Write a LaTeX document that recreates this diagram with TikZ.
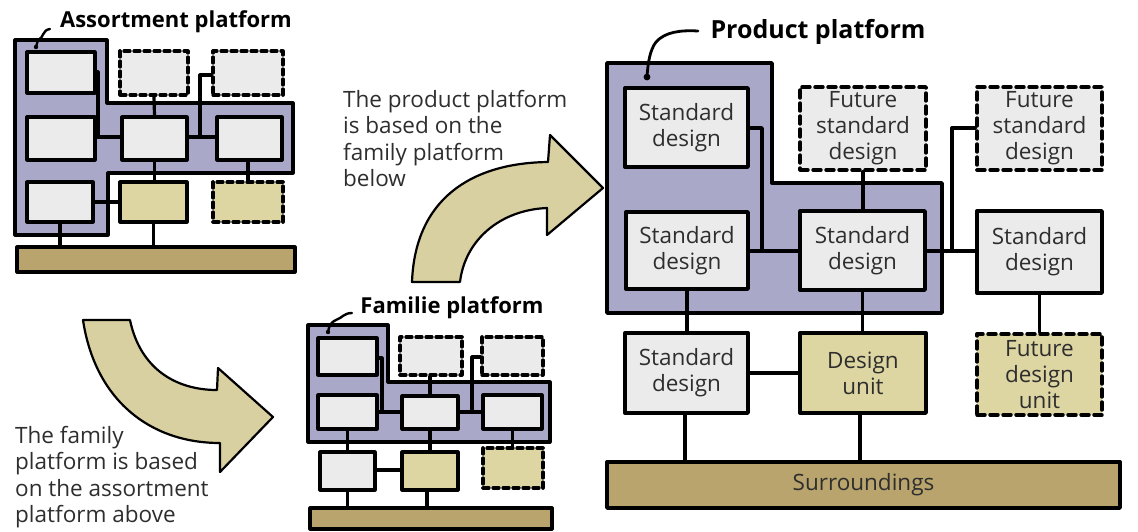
\documentclass[tikz,border=0pt]{standalone}
\usepackage{fontspec}
\setmainfont{Open Sans}
\usetikzlibrary{calc}
\definecolor{platblue}{HTML}{A9A8C9}
\definecolor{stdgray}{HTML}{EBEBEB}
\definecolor{unittan}{HTML}{DDD5A2}
\definecolor{envtan}{HTML}{B8A46C}
\definecolor{arrowtan}{HTML}{D9D0A1}
\definecolor{inkgray}{HTML}{2E2E2E}
\pgfdeclarelayer{platlayer}
\pgfdeclarelayer{wirelayer}
\pgfsetlayers{platlayer,wirelayer,main}
\tikzset{
  ink/.style={line width=#1, draw=black, line join=round, line cap=round},
  bigbox/.style={rectangle, ink=3.4, fill=stdgray, inner sep=0pt, align=center,
     text=inkgray, font=\fontsize{22.5}{26}\selectfont},
  smallbox/.style={rectangle, ink=3.2, fill=stdgray, inner sep=0pt},
  unitfill/.style={fill=unittan},
  envfill/.style={fill=envtan},
  futurebig/.style={dash pattern=on 8pt off 5pt},
  futuresmall/.style={dash pattern=on 6pt off 4pt},
  platbig/.style={ink=3.4, fill=platblue},
  platsmall/.style={ink=3.2, fill=platblue},
  wirebig/.style={ink=3.4},
  wiresmall/.style={ink=3.2},
  bigarrow/.style={ink=2.2, fill=arrowtan},
  leader/.style={ink=2.4},
  title/.style={font=\fontsize{22}{26}\selectfont\bfseries, text=black, inner sep=0pt},
  note/.style={font=\fontsize{22.5}{26.5}\selectfont, text=inkgray, align=left, inner sep=0pt, anchor=north west},
}
\begin{document}
\begin{tikzpicture}[x=1pt,y=-1pt]
\useasboundingbox (0,0) rectangle (1138,531);

% ---------------- Assortment platform (top left) ----------------
\node[title] (t1) at (176,22) {Assortment platform};
\begin{pgfonlayer}{platlayer}
\draw[platsmall] (15,40) -- (107,40) -- (107,103) -- (293,103) -- (293,173)
   -- (108,173) -- (108,235) -- (15,235) -- cycle;
\end{pgfonlayer}
\coordinate (t1dot) at (36,47);
\draw[leader] (50,29) .. controls (42,30) and (44,38) .. (38,40) -- (t1dot);
\fill (t1dot) circle (2.2);

\node[smallbox, minimum width=68, minimum height=41] (aA1) at (61,72.5) {};
\node[smallbox, futuresmall, minimum width=68, minimum height=44] (aA2) at (154,73) {};
\node[smallbox, futuresmall, minimum width=70, minimum height=44] (aA3) at (248,73) {};
\node[smallbox, minimum width=68, minimum height=43] (aB1) at (61,138.5) {};
\node[smallbox, minimum width=65, minimum height=43] (aB2) at (154.5,138.5) {};
\node[smallbox, minimum width=65, minimum height=43] (aB3) at (249.5,138.5) {};
\node[smallbox, minimum width=66, minimum height=40] (aC1) at (60,202) {};
\node[smallbox, unitfill, minimum width=67, minimum height=40] (aC2) at (153.5,202) {};
\node[smallbox, unitfill, futuresmall, minimum width=70, minimum height=40] (aC3) at (248,202) {};
\node[smallbox, envfill, minimum width=278, minimum height=25] (aEnv) at (156,259.5) {};

\coordinate (aJ1) at (98,137);
\coordinate (aJ2) at (200,137);
\begin{pgfonlayer}{wirelayer}
\draw[wiresmall] (aA1.east |- 0,72) -| (aJ1);
\draw[wiresmall] (aB1.east |- aJ1) -- (aB2.west |- aJ1);
\draw[wiresmall] (aA2.south) -- (aB2.north);
\draw[wiresmall] (aA3.west |- 0,75) -| (aJ2);
\draw[wiresmall] (aB2.east |- aJ2) -- (aB3.west |- aJ2);
\draw[wiresmall] (aB2.south) -- (aC2.north -| aB2.south);
\draw[wiresmall] (aB3.south -| aC3.north) -- (aC3.north);
\draw[wiresmall] (aC1.east) -- (aC2.west);
\draw[wiresmall] (aC1.south) -- (aEnv.north -| aC1.south);
\draw[wiresmall] (aC2.south) -- (aEnv.north -| aC2.south);
\end{pgfonlayer}

% ---------------- Familie platform (bottom middle) ----------------
\node[title] (t2) at (452,308) {Familie platform};
\begin{pgfonlayer}{platlayer}
\draw[platsmall] (308,325) -- (388,325) -- (388,382) -- (550,382) -- (550,442)
   -- (308,442) -- cycle;
\end{pgfonlayer}
\coordinate (t2dot) at (328,332);
\draw[leader] (352,313) .. controls (344,313) and (342,318) .. (336,320)
   .. controls (331,322) and (329,326) .. (t2dot);
\fill (t2dot) circle (2.2);

\node[smallbox, minimum width=59, minimum height=37] (fA1) at (347.5,356.5) {};
\node[smallbox, futuresmall, minimum width=62, minimum height=38] (fA2) at (431,356) {};
\node[smallbox, futuresmall, minimum width=61, minimum height=38] (fA3) at (512.5,356) {};
\node[smallbox, minimum width=59, minimum height=34] (fB1) at (347.5,412) {};
\node[smallbox, minimum width=56, minimum height=33] (fB2) at (430,412.5) {};
\node[smallbox, minimum width=59, minimum height=34] (fB3) at (512.5,412) {};
\node[smallbox, minimum width=55, minimum height=38] (fC1) at (347.5,471) {};
\node[smallbox, unitfill, minimum width=56, minimum height=38] (fC2) at (430,471) {};
\node[smallbox, unitfill, futuresmall, minimum width=60, minimum height=40] (fC3) at (513,468) {};
\node[smallbox, envfill, minimum width=242, minimum height=21] (fEnv) at (431,518.5) {};

\coordinate (fJ1) at (382,412);
\coordinate (fJ2) at (472,412);
\begin{pgfonlayer}{wirelayer}
\draw[wiresmall] (fA1.east |- 0,358) -| (fJ1);
\draw[wiresmall] (fB1.east |- fJ1) -- (fB2.west |- fJ1);
\draw[wiresmall] (fA2.south -| 430,0) -- (fB2.north -| 430,0);
\draw[wiresmall] (fA3.west |- 0,357) -| (fJ2);
\draw[wiresmall] (fB2.east |- fJ2) -- (fB3.west |- fJ2);
\draw[wiresmall] (fB1.south) -- (fC1.north);
\draw[wiresmall] (fB2.south) -- (fC2.north);
\draw[wiresmall] (fB3.south) -- (fC3.north -| fB3.south);
\draw[wiresmall] (fC1.east |- 0,470) -- (fC2.west |- 0,470);
\draw[wiresmall] (fC1.south) -- (fEnv.north -| fC1.south);
\draw[wiresmall] (fC2.south -| 427,0) -- (fEnv.north -| 427,0);
\end{pgfonlayer}

% ---------------- Curved arrows and notes ----------------
\draw[bigarrow] (83,320) -- (130,320) .. controls (140,368) and (175,390) .. (217,390)
   -- (218,368) -- (273,417) -- (220,472) -- (220,443)
   .. controls (150,443) and (95,400) .. (83,320) -- cycle;
\node[note] (n1) at (15,426) {The family\\platform is based\\on the assortment\\platform above};

\draw[bigarrow] (412,282) .. controls (415,200) and (470,163) .. (548,162)
   -- (550,135) -- (603,188) -- (547,235) -- (547,208)
   .. controls (500,210) and (465,240) .. (460,282) -- cycle;
\node[note] (n2) at (343,90) {The product platform\\is based on the\\family platform\\below};

% ---------------- Product platform (right) ----------------
\node[title, font=\fontsize{25}{30}\selectfont\bfseries] (t3) at (818,32) {Product platform};
\begin{pgfonlayer}{platlayer}
\draw[platbig] (607,63) -- (772,63) -- (772,183) -- (942,183) -- (942,313)
   -- (607,313) -- cycle;
\end{pgfonlayer}
\coordinate (t3dot) at (647,77);
\draw[leader, line width=2.8] (698,31) .. controls (680,30) and (665,32) .. (656,42)
   .. controls (650,50) and (648,62) .. (t3dot);
\fill (t3dot) circle (3.4);

\node[bigbox, minimum width=123, minimum height=79] (pS1) at (686.5,127.5) {Standard\\design};
\node[bigbox, futurebig, minimum width=126, minimum height=83] (pF1) at (863,128.5) {Future\\standard\\design};
\node[bigbox, futurebig, minimum width=125, minimum height=83] (pF2) at (1039.5,128.5) {Future\\standard\\design};
\node[bigbox, minimum width=122, minimum height=77] (pS2) at (687,250.5) {Standard\\design};
\node[bigbox, minimum width=125, minimum height=79] (pS3) at (862.5,250.5) {Standard\\design};
\node[bigbox, minimum width=125, minimum height=82] (pS4) at (1039.5,252) {Standard\\design};
\node[bigbox, minimum width=123, minimum height=80] (pS5) at (686.5,373) {Standard\\design};
\node[bigbox, unitfill, minimum width=126, minimum height=80] (pD) at (863,373) {Design\\unit};
\node[bigbox, unitfill, futurebig, minimum width=125, minimum height=81] (pFD) at (1039.5,374.5) {Future\\design\\unit};
\node[bigbox, envfill, minimum width=513, minimum height=46] (pEnv) at (863.5,485) {Surroundings};

\coordinate (pJ1) at (762,251);
\coordinate (pJ2) at (952,251);
\begin{pgfonlayer}{wirelayer}
\draw[wirebig] (pS1.east |- 0,128) -| (pJ1);
\draw[wirebig] (pS2.east |- pJ1) -- (pS3.west |- pJ1);
\draw[wirebig] (pF1.south) -- (pS3.north -| pF1.south);
\draw[wirebig] (pF2.west |- 0,128) -| (pJ2);
\draw[wirebig] (pS3.east |- pJ2) -- (pS4.west |- pJ2);
\draw[wirebig] (pS2.south) -- (pS5.north -| pS2.south);
\draw[wirebig] (pS3.south) -- (pD.north -| pS3.south);
\draw[wirebig] (pS4.south) -- (pFD.north);
\draw[wirebig] (pS5.east) -- (pD.west);
\draw[wirebig] (pS5.south -| 685,0) -- (pEnv.north -| 685,0);
\draw[wirebig] (pD.south -| 860,0) -- (pEnv.north -| 860,0);
\end{pgfonlayer}
\end{tikzpicture}
\end{document}
